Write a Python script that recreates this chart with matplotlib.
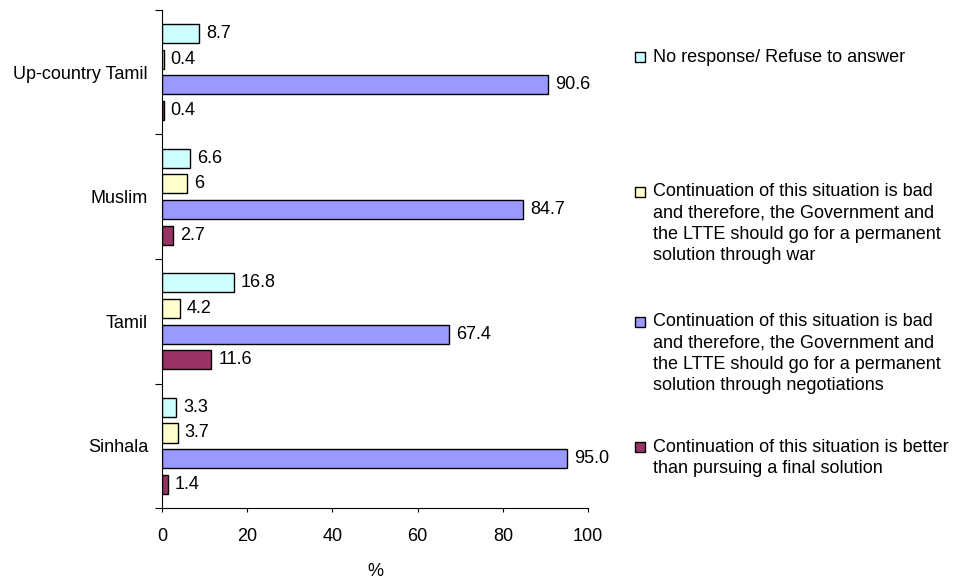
import matplotlib
matplotlib.use("Agg")
import matplotlib.pyplot as plt
from matplotlib.patches import Rectangle
import numpy as np

plt.rcParams['font.family'] = ['Liberation Sans', 'DejaVu Sans']

# groups, bottom to top
categories = ['Sinhala', 'Tamil', 'Muslim', 'Up-country Tamil']

no_response = [3.3, 16.8, 6.6, 8.7]
war = [3.7, 4.2, 6.0, 0.4]
negotiations = [95.0, 67.4, 84.7, 90.6]
better = [1.4, 11.6, 2.7, 0.4]

# data labels as printed on the chart
no_response_lbl = ['3.3', '16.8', '6.6', '8.7']
war_lbl = ['3.7', '4.2', '6', '0.4']
negotiations_lbl = ['95.0', '67.4', '84.7', '90.6']
better_lbl = ['1.4', '11.6', '2.7', '0.4']

series_names = [
    'No response/ Refuse to answer',
    'Continuation of this situation is bad\nand therefore, the Government and\nthe LTTE should go for a permanent\nsolution through war',
    'Continuation of this situation is bad\nand therefore, the Government and\nthe LTTE should go for a permanent\nsolution through negotiations',
    'Continuation of this situation is better\nthan pursuing a final solution',
]
colors = ['#CCFFFF', '#FFFFCC', '#9999FF', '#993366']

FS = 13

fig = plt.figure(figsize=(9.58, 5.8), dpi=100)
ax = fig.add_axes([0.169, 0.124, 0.445, 0.859])

y = np.arange(len(categories))
pitch = 0.206
height = 0.153
offsets = [1.5 * pitch, 0.5 * pitch, -0.5 * pitch, -1.5 * pitch]

all_vals = [no_response, war, negotiations, better]
all_lbls = [no_response_lbl, war_lbl, negotiations_lbl, better_lbl]

for vals, lbls, off, col in zip(all_vals, all_lbls, offsets, colors):
    ax.barh(y + off, vals, height=height, color=col, edgecolor='black', linewidth=1.0)
    for yy, v, s in zip(y + off, vals, lbls):
        ax.annotate(s, (v, yy), xytext=(5, 0), textcoords='offset points',
                    va='center', ha='left', fontsize=FS)

ax.set_xlim(0, 100)
ax.set_ylim(-0.5, 3.5)
ax.set_xticks([0, 20, 40, 60, 80, 100])
ax.set_yticks(y)
ax.set_yticklabels(categories)
ax.set_yticks(np.arange(-0.5, 4.0, 1.0), minor=True)
ax.tick_params(axis='y', which='major', length=0, pad=10, labelsize=FS)
ax.tick_params(axis='y', which='minor', length=5, width=0.8, direction='out')
ax.tick_params(axis='x', length=3, width=0.8, pad=11, labelsize=FS)
ax.set_xlabel('%', fontsize=FS, labelpad=13)

for side in ['top', 'right']:
    ax.spines[side].set_visible(False)
for side in ['left', 'bottom']:
    ax.spines[side].set_linewidth(0.8)

# legend drawn by hand so the marker sits on the first line of each entry
W, H = 958.0, 580.0
first_line = [57, 192, 322, 447]
line_step = 21.3
for name, col, ty in zip(series_names, colors, first_line):
    fig.patches.append(Rectangle((635 / W, 1 - (ty + 5) / H), 10 / W, 10 / H,
                                 transform=fig.transFigure, facecolor=col,
                                 edgecolor='black', linewidth=1.0))
    for i, line in enumerate(name.split('\n')):
        fig.text(653 / W, 1 - (ty + i * line_step) / H, line, fontsize=FS,
                 va='center', ha='left')

fig.savefig('out.png', dpi=100)
